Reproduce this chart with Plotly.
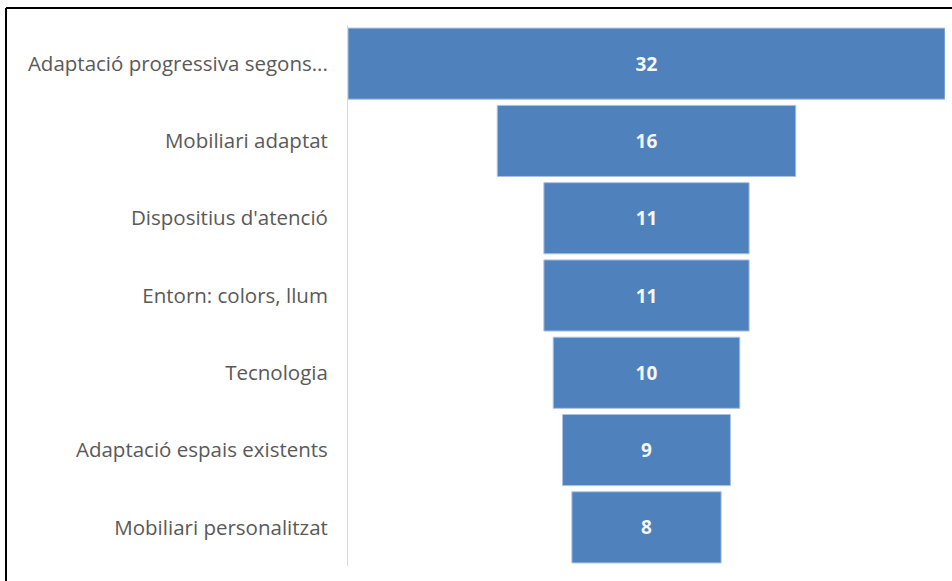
import plotly.graph_objects as go

categories = [
    "Adaptació progressiva segons...",
    "Mobiliari adaptat",
    "Dispositius d'atenció",
    "Entorn: colors, llum",
    "Tecnologia",
    "Adaptació espais existents",
    "Mobiliari personalitzat",
]
values = [32, 16, 11, 11, 10, 9, 8]

W, H = 952, 581
L, R, T, B = 348, 7, 25, 15
pw, ph = W - L - R, H - T - B

def px_x(px):
    return (px - L) / pw

def px_y(py):
    return (H - B - py) / ph

fig = go.Figure(go.Funnel(
    y=categories,
    x=values,
    orientation="h",
    textinfo="value",
    textposition="inside",
    insidetextanchor="middle",
    textfont=dict(color="#f4f7fb", size=19, family="Open Sans"),
    texttemplate="<b>%{value}</b>",
    marker=dict(color="#4f81bd", line=dict(color="#a9c1e2", width=1)),
    connector=dict(visible=False),
    hoverinfo="skip",
))

fig.update_layout(
    width=W, height=H,
    margin=dict(l=L, r=R, t=T, b=B, pad=0),
    paper_bgcolor="white",
    plot_bgcolor="white",
    funnelgap=0.08,
    showlegend=False,
    xaxis=dict(visible=False, range=[-max(values) / 2, max(values) / 2]),
    yaxis=dict(
        showline=True, linecolor="#d9d9d9", linewidth=1,
        showgrid=False, zeroline=False,
        tickfont=dict(family="Open Sans", size=20.5, color="#595959"),
        ticks="", ticklabelstandoff=15,
    ),
    shapes=[
        dict(type="line", xref="paper", yref="paper",
             x0=px_x(6), x1=px_x(960), y0=px_y(8), y1=px_y(8),
             line=dict(color="black", width=2)),
        dict(type="line", xref="paper", yref="paper",
             x0=px_x(6), x1=px_x(6), y0=px_y(8), y1=px_y(590),
             line=dict(color="black", width=2)),
    ],
)

fig.write_html("out.html")
